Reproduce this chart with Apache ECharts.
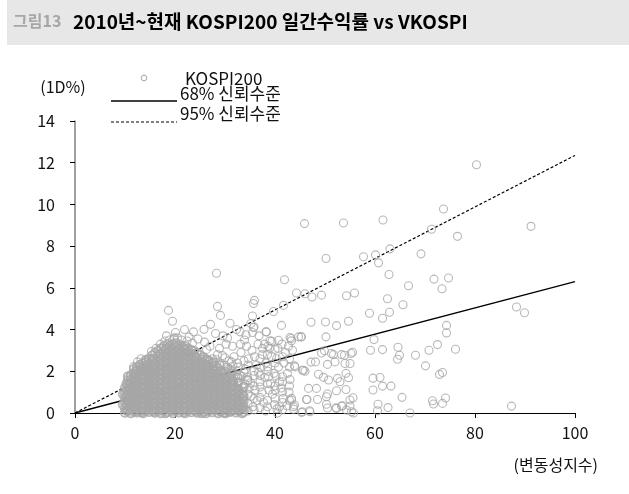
<!DOCTYPE html>
<html>
<head>
<meta charset="utf-8">
<script src="https://cdn.jsdelivr.net/npm/echarts@6/dist/echarts.min.js"></script>
<style>
  html, body { margin: 0; padding: 0; background: #fff; }
  #chart { width: 629px; height: 494px; }
</style>
</head>
<body>
<div id="chart"></div>
<script>
// 축 눈금
const xTicks = [0, 20, 40, 60, 80, 100]
const yTicks = [0, 2, 4, 6, 8, 10, 12, 14]

// 신뢰구간 선 (변동성지수 → 일간수익률)
const band68 = [[0, 0], [100, 6.3]]
const band95 = [[0, 0], [100, 12.35]]

// 밀집 구간: [VKOSPI, [일간수익률 ...]]
const denseColumns = [
  [9.6, [0.4, 0.9]],
  [10.0, [0.02, 0.25, 0.5, 0.72, 0.95, 1.2]],
  [10.6, [0.1, 0.33, 0.6, 0.81, 1.05, 1.3, 1.55, 1.75]],
  [11.2, [0.0, 0.2, 0.45, 0.7, 0.9, 1.12, 1.38, 1.6, 1.82]],
  [11.8, [0.08, 0.3, 0.55, 0.78, 1.0, 1.25, 1.47, 1.7, 1.9, 2.1]],
  [12.4, [0.03, 0.22, 0.48, 0.7, 0.93, 1.15, 1.4, 1.62, 1.85, 2.05, 2.2]],
  [13.0, [0.12, 0.35, 0.6, 0.82, 1.05, 1.3, 1.52, 1.75, 1.98, 2.2, 2.32]],
  [13.6, [0.0, 0.25, 0.47, 0.7, 0.95, 1.18, 1.4, 1.63, 1.88, 2.1, 2.38]],
  [14.2, [0.1, 0.32, 0.56, 0.8, 1.02, 1.27, 1.5, 1.72, 1.95, 2.18, 2.42, 2.55]],
  [14.8, [0.05, 0.28, 0.5, 0.74, 0.97, 1.2, 1.45, 1.68, 1.9, 2.13, 2.36, 2.6]],
  [15.4, [0.15, 0.38, 0.6, 0.85, 1.08, 1.32, 1.55, 1.78, 2.02, 2.25, 2.5, 2.75]],
  [16.0, [0.02, 0.24, 0.48, 0.7, 0.94, 1.17, 1.4, 1.64, 1.87, 2.1, 2.34, 2.58, 2.88]],
  [16.6, [0.1, 0.33, 0.57, 0.8, 1.03, 1.27, 1.5, 1.73, 1.97, 2.2, 2.44, 2.7, 2.98]],
  [17.2, [0.0, 0.22, 0.45, 0.68, 0.92, 1.15, 1.38, 1.62, 1.85, 2.08, 2.32, 2.56, 2.8, 3.08]],
  [17.8, [0.12, 0.36, 0.6, 0.83, 1.06, 1.3, 1.53, 1.77, 2.0, 2.24, 2.47, 2.72, 2.95, 3.2]],
  [18.4, [0.05, 0.28, 0.52, 0.75, 0.98, 1.22, 1.45, 1.68, 1.92, 2.15, 2.38, 2.62, 2.87, 3.1, 3.27]],
  [19.0, [0.15, 0.4, 0.63, 0.86, 1.1, 1.33, 1.56, 1.8, 2.03, 2.27, 2.5, 2.74, 2.98, 3.22]],
  [19.6, [0.0, 0.24, 0.47, 0.7, 0.94, 1.17, 1.4, 1.64, 1.88, 2.1, 2.35, 2.58, 2.82, 3.06, 3.3]],
  [20.2, [0.1, 0.34, 0.58, 0.8, 1.04, 1.27, 1.5, 1.74, 1.97, 2.2, 2.44, 2.68, 2.92, 3.15, 3.35]],
  [20.8, [0.03, 0.26, 0.5, 0.73, 0.96, 1.2, 1.43, 1.66, 1.9, 2.13, 2.37, 2.6, 2.84, 3.08, 3.28]],
  [21.4, [0.14, 0.37, 0.6, 0.84, 1.07, 1.3, 1.54, 1.77, 2.0, 2.24, 2.48, 2.72, 2.95, 3.2]],
  [22.0, [0.0, 0.22, 0.46, 0.7, 0.93, 1.16, 1.4, 1.63, 1.86, 2.1, 2.33, 2.57, 2.8, 3.04, 3.22]],
  [22.6, [0.1, 0.33, 0.56, 0.8, 1.03, 1.26, 1.5, 1.73, 1.96, 2.2, 2.43, 2.67, 2.9, 3.1]],
  [23.2, [0.04, 0.27, 0.5, 0.73, 0.97, 1.2, 1.44, 1.67, 1.9, 2.14, 2.37, 2.6, 2.84, 3.02]],
  [23.8, [0.15, 0.38, 0.62, 0.85, 1.08, 1.32, 1.55, 1.78, 2.02, 2.25, 2.5, 2.75, 2.98]],
  [24.4, [0.02, 0.25, 0.48, 0.72, 0.95, 1.18, 1.42, 1.65, 1.88, 2.12, 2.35, 2.6, 2.88]],
  [25.0, [0.12, 0.35, 0.58, 0.82, 1.05, 1.28, 1.52, 1.75, 1.98, 2.22, 2.46, 2.78]],
  [25.6, [0.06, 0.28, 0.52, 0.75, 0.98, 1.22, 1.45, 1.68, 1.92, 2.16, 2.4, 2.68]],
  [26.2, [0.0, 0.2, 0.44, 0.67, 0.9, 1.14, 1.37, 1.6, 1.84, 2.07, 2.32, 2.58]],
  [26.8, [0.1, 0.33, 0.57, 0.8, 1.03, 1.27, 1.5, 1.73, 1.97, 2.2, 2.48]],
  [27.4, [0.04, 0.26, 0.5, 0.73, 0.96, 1.2, 1.43, 1.66, 1.9, 2.14, 2.38]],
  [28.0, [0.14, 0.37, 0.6, 0.84, 1.07, 1.3, 1.54, 1.77, 2.0, 2.26]],
  [28.6, [0.0, 0.23, 0.46, 0.7, 0.93, 1.16, 1.4, 1.63, 1.87, 2.15]],
  [29.2, [0.08, 0.32, 0.55, 0.78, 1.02, 1.25, 1.48, 1.72, 1.95]],
  [29.8, [0.02, 0.25, 0.48, 0.72, 0.95, 1.18, 1.42, 1.65, 1.9]],
  [30.4, [0.12, 0.36, 0.6, 0.83, 1.06, 1.3, 1.53, 1.76]],
  [31.0, [0.05, 0.28, 0.52, 0.75, 0.98, 1.22, 1.45, 1.68]],
  [31.6, [0.15, 0.38, 0.62, 0.85, 1.08, 1.32, 1.5]],
  [32.2, [0.03, 0.26, 0.5, 0.73, 0.96, 1.2]],
  [32.8, [0.1, 0.34, 0.58, 0.82, 1.05]],
  [33.4, [0.0, 0.24, 0.47, 0.7, 0.9]]
]

// 밀집 구간 사이 보충 열
const fillColumns = [
  [10.3, [0.12, 0.38, 0.62, 0.85, 1.1, 1.4]],
  [10.9, [0.15, 0.42, 0.66, 0.88, 1.18, 1.45]],
  [12.1, [0.12, 0.38, 0.62, 0.86, 1.08, 1.32, 1.55, 1.78, 1.98]],
  [13.3, [0.05, 0.24, 0.48, 0.72, 0.94, 1.18, 1.42, 1.64, 1.87, 2.1]],
  [14.5, [0.2, 0.44, 0.68, 0.9, 1.14, 1.38, 1.6, 1.84, 2.06, 2.3]],
  [15.7, [0.08, 0.27, 0.5, 0.73, 0.97, 1.2, 1.44, 1.66, 1.9, 2.14, 2.38, 2.62]],
  [16.9, [0.2, 0.44, 0.68, 0.92, 1.15, 1.38, 1.62, 1.86, 2.08, 2.32, 2.56, 2.82]],
  [18.1, [0.0, 0.24, 0.47, 0.7, 0.92, 1.16, 1.4, 1.62, 1.86, 2.1, 2.34, 2.56, 2.8, 3.02]],
  [19.3, [0.1, 0.3, 0.52, 0.76, 0.98, 1.22, 1.46, 1.68, 1.92, 2.16, 2.4, 2.62, 2.86, 3.1]],
  [20.5, [0.22, 0.45, 0.68, 0.92, 1.15, 1.38, 1.62, 1.86, 2.08, 2.32, 2.56, 2.8, 3.02]],
  [21.7, [0.05, 0.26, 0.5, 0.73, 0.96, 1.2, 1.43, 1.66, 1.9, 2.14, 2.38, 2.6, 2.84, 3.08]],
  [22.9, [0.2, 0.44, 0.68, 0.9, 1.14, 1.38, 1.62, 1.84, 2.08, 2.3, 2.54, 2.78]],
  [24.1, [0.1, 0.32, 0.56, 0.8, 1.02, 1.26, 1.5, 1.74, 1.96, 2.2, 2.44, 2.7]],
  [25.3, [0.0, 0.22, 0.46, 0.7, 0.92, 1.16, 1.4, 1.62, 1.86, 2.1, 2.34, 2.58]],
  [26.5, [0.12, 0.36, 0.6, 0.82, 1.06, 1.3, 1.52, 1.76, 2.0, 2.26, 2.55]],
  [27.7, [0.2, 0.44, 0.66, 0.9, 1.14, 1.36, 1.6, 1.84, 2.1, 2.42]],
  [28.9, [0.1, 0.34, 0.58, 0.82, 1.06, 1.3, 1.52, 1.78, 2.0, 2.3]],
  [30.1, [0.0, 0.22, 0.46, 0.7, 0.94, 1.18, 1.42, 1.66, 1.98]],
  [31.3, [0.1, 0.36, 0.6, 0.86, 1.12, 1.36, 1.6, 1.9]],
  [32.5, [0.15, 0.4, 0.65, 0.9, 1.15, 1.45, 1.7]],
  [33.7, [0.05, 0.3, 0.55, 0.8, 1.25]]
]

// 밀집 구간 가장자리
const edgePoints = [
  [11.7, 2.21], [14.0, 2.5], [10.7, 1.67], [12.5, 2.45], [13.2, 2.6], [15.3, 2.95],
  [16.2, 3.1], [17.1, 3.3], [18.0, 3.45], [18.9, 3.5], [19.8, 3.55], [20.5, 3.6],
  [21.3, 3.5], [22.4, 3.45], [23.5, 3.35], [18.3, 3.7], [19.9, 3.6], [22.8, 3.65],
  [24.6, 3.55], [25.9, 3.4], [27.0, 3.2], [26.3, 3.05], [28.9, 3.1], [30.2, 3.3],
  [29.5, 2.75], [30.8, 2.5], [31.6, 2.25], [32.4, 2.0], [33.3, 1.75], [34.0, 1.4],
  [18.7, 4.92], [19.5, 4.4], [20.1, 3.86], [21.9, 4.0], [23.7, 3.89], [25.8, 4.01],
  [27.1, 4.25], [28.1, 3.81], [28.3, 6.7], [28.5, 5.11], [29.1, 4.68],
  [30.5, 3.6], [31.5, 3.2], [32.3, 4.0], [33.1, 3.3], [34.2, 3.75], [35.7, 4.1],
  [31.0, 4.3], [29.6, 3.7],
  [27.5, 2.6], [28.2, 2.55], [29.0, 2.4], [29.8, 2.3], [30.6, 2.1], [31.4, 2.0],
  [32.1, 1.75], [32.8, 1.5], [33.5, 1.2], [28.5, 2.8], [30.0, 2.65], [31.3, 2.45],
  [32.6, 2.2], [33.8, 1.95], [34.5, 1.6]
]

// 중간 구간 (VKOSPI 30~45)
const midPoints = [
  [33.2, 2.9], [33.8, 2.5], [34.1, 2.1], [34.5, 1.7], [34.8, 1.2], [35.2, 0.8],
  [35.6, 0.3], [35.9, 2.7], [36.3, 2.3], [36.7, 1.95], [37.0, 1.5], [37.4, 1.0],
  [37.7, 0.5], [38.1, 0.1], [34.3, 3.2], [35.4, 3.0], [36.6, 3.3], [37.5, 2.8],
  [38.2, 2.4], [38.6, 2.0], [39.1, 1.4], [39.5, 0.9], [39.9, 0.4], [40.3, 2.6],
  [40.7, 2.2], [41.2, 1.2], [41.6, 0.7], [42.1, 2.9], [42.5, 1.9], [42.8, 1.0],
  [33.0, 0.5], [33.6, 1.0], [34.0, 0.15], [34.7, 2.6], [35.1, 1.45], [36.0, 1.1],
  [36.4, 0.6], [37.2, 2.2], [38.0, 1.7], [38.8, 1.1], [39.3, 2.7], [39.8, 1.9],
  [40.4, 0.2], [40.9, 1.5], [41.8, 2.4], [42.4, 0.35], [43.0, 1.6], [31.8, 2.7],
  [32.5, 2.4], [31.2, 2.05], [30.5, 2.2], [32.9, 1.8], [33.9, 3.5], [36.8, 3.7],
  [38.9, 3.1], [40.6, 3.1], [41.4, 3.3], [42.7, 3.2], [37.9, 3.3],
  [35.9, 5.4], [35.7, 5.25], [35.5, 4.65], [35.2, 4.29], [41.3, 4.2], [41.7, 5.16],
  [38.2, 3.89], [39.7, 4.87], [33.0, 3.89], [35.5, 3.86], [35.8, 4.12], [38.3, 3.89],
  [39.0, 3.46], [40.7, 3.49], [43.2, 3.57], [43.5, 3.01], [44.7, 3.65], [39.4, 3.44],
  [43.0, 3.62], [43.3, 3.46], [45.2, 3.65], [37.5, 3.1], [38.6, 3.2], [40.0, 3.05],
  [44.0, 2.21], [38.7, 1.74], [40.2, 1.77], [41.5, 1.74], [43.3, 0.7], [43.7, 0.3],
  [43.9, 2.26], [43.3, 0.62], [43.9, 0.38], [45.3, 0.03], [40.9, 0.3], [40.5, 0.0],
  [34.6, 0.1], [34.6, 0.45], [34.6, 0.9], [34.6, 1.55], [34.6, 2.3],
  [35.8, 0.15], [35.8, 0.7], [35.8, 1.3], [35.8, 1.8], [35.8, 2.0],
  [37.0, 0.25], [37.0, 0.75], [37.0, 1.25], [37.0, 1.8], [37.0, 2.6],
  [38.5, 0.3], [38.5, 0.6], [38.5, 1.4], [38.5, 2.2], [38.5, 2.8],
  [40.0, 0.7], [40.0, 1.1], [40.0, 1.3], [40.0, 2.4],
  [41.5, 0.15], [41.5, 0.5], [41.5, 1.0], [41.5, 1.5], [41.5, 2.7],
  [42.9, 0.6], [42.9, 1.3], [42.9, 2.2], [42.9, 2.6]
]

// 고변동 구간 (VKOSPI 45 이상 및 이상치)
const highVolPoints = [
  [80.3, 11.9], [73.7, 9.78], [91.2, 8.95], [45.9, 9.08], [53.7, 9.11], [61.6, 9.25],
  [71.3, 8.81], [76.5, 8.47], [63.0, 7.87], [50.2, 7.41], [57.7, 7.49], [60.1, 7.58],
  [60.7, 7.2], [69.2, 7.63], [62.8, 6.64], [66.7, 6.1], [71.8, 6.42], [74.7, 6.47],
  [73.4, 5.96], [41.9, 6.39], [44.3, 5.75], [46.0, 5.72], [47.4, 5.56], [49.3, 5.65],
  [54.3, 5.62], [55.9, 5.75], [62.5, 5.48], [65.6, 5.19], [88.3, 5.08], [89.9, 4.81],
  [58.9, 4.78], [62.9, 4.83], [61.5, 4.54], [47.2, 4.35], [50.1, 4.36], [52.3, 4.19],
  [54.7, 4.4], [74.3, 4.2], [74.3, 3.84], [45.3, 3.65], [50.2, 3.65], [59.8, 3.52],
  [72.5, 3.28], [70.8, 3.01], [76.1, 3.06], [64.6, 3.15], [64.9, 2.77], [64.5, 2.58],
  [68.1, 2.77], [70.1, 2.26], [59.1, 3.01], [61.5, 3.04], [49.9, 2.98], [51.7, 2.8],
  [53.9, 2.77], [55.5, 2.91], [55.0, 2.37], [45.5, 2.05], [47.2, 2.44], [48.1, 2.45],
  [45.7, 2.05], [46.0, 2.0], [49.3, 2.88], [50.5, 2.33], [51.3, 2.85], [52.0, 2.45],
  [53.3, 2.8], [54.0, 2.37], [55.2, 2.85], [48.7, 1.86], [49.7, 1.71], [50.7, 1.58],
  [52.5, 1.66], [53.0, 1.5], [54.2, 1.9], [54.7, 1.69], [54.2, 1.13], [52.3, 1.07],
  [50.5, 0.91], [48.3, 1.18], [46.7, 1.18], [59.6, 1.67], [61.0, 1.7], [59.6, 1.1],
  [61.5, 1.29], [63.2, 1.29], [72.9, 1.85], [73.5, 1.94], [65.4, 0.75], [71.5, 0.59],
  [71.7, 0.43], [73.5, 0.46], [74.1, 0.72], [87.3, 0.33], [67.0, 0.0], [60.6, 0.42],
  [60.5, 0.11], [62.6, 0.26], [46.4, 0.65], [46.9, 0.11], [46.3, 0.65], [48.5, 0.65],
  [50.3, 0.78], [52.3, 0.22], [53.3, 0.33], [55.0, 0.62], [55.0, 0.33], [43.7, 0.18],
  [45.5, 0.06], [47.0, 0.06], [50.5, 0.24], [55.3, 0.06], [55.7, 0.0], [54.3, 0.14],
  [53.5, 0.35], [52.2, 0.25], [50.3, 0.42], [55.6, 0.73]
]

// 겹쳐서 면처럼 보이는 중심부
const coreData = []
denseColumns.concat(fillColumns).forEach(([vk, ys]) => ys.forEach(y => coreData.push([vk, y])))
const spreadData = edgePoints.concat(midPoints, highVolPoints)

const chart = echarts.init(document.getElementById('chart'), null, { renderer: 'canvas' })
const baseFont = "'Noto Sans CJK KR', 'Noto Sans', sans-serif"

const option = {
  animation: false,
  backgroundColor: '#fff',
  textStyle: { fontFamily: baseFont },
  grid: { left: 75, right: 54, top: 121, bottom: 81 },
  xAxis: {
    type: 'value',
    min: xTicks[0],
    max: xTicks[xTicks.length - 1],
    interval: 20,
    axisLine: { lineStyle: { color: '#000', width: 1 } },
    axisTick: { show: true, length: 5, inside: false, lineStyle: { color: '#000' } },
    axisLabel: { margin: 12, fontSize: 16, color: '#111', fontFamily: baseFont },
    splitLine: { show: false }
  },
  yAxis: {
    type: 'value',
    min: yTicks[0],
    max: yTicks[yTicks.length - 1],
    interval: 2,
    axisLine: { show: true, lineStyle: { color: '#808080', width: 1.5 } },
    axisTick: { show: true, length: 5, lineStyle: { color: '#000' } },
    axisLabel: { margin: 20, fontSize: 16, color: '#111', fontFamily: baseFont },
    splitLine: { show: false }
  },
  graphic: [
    { type: 'rect', shape: { x: 7, y: 0, width: 622, height: 45 }, style: { fill: '#e7e7e7' }, silent: true },
    { type: 'text', left: 13, top: 13, style: { text: '그림13', fontSize: 16, fontWeight: 'bold', fill: '#a6a6a6', fontFamily: baseFont } },
    { type: 'text', left: 73, top: 12, style: { text: '2010년~현재 KOSPI200 일간수익률 vs VKOSPI', fontSize: 19, fontWeight: 'bold', fill: '#000', fontFamily: baseFont } },
    { type: 'text', x: 63, y: 87, style: { text: '(1D%)', fontSize: 16, fill: '#111', align: 'center', verticalAlign: 'middle', fontFamily: baseFont } },
    { type: 'text', x: 598, y: 465, style: { text: '(변동성지수)', fontSize: 16, fill: '#111', align: 'right', verticalAlign: 'middle', fontFamily: baseFont } },
    // 범례
    { type: 'circle', shape: { cx: 144, cy: 78, r: 2.8 }, style: { fill: 'none', stroke: '#a6a6a6', lineWidth: 1 } },
    { type: 'text', x: 185, y: 79, style: { text: 'KOSPI200', fontSize: 17, fill: '#111', verticalAlign: 'middle', fontFamily: baseFont } },
    { type: 'line', shape: { x1: 111, y1: 101, x2: 177, y2: 101 }, style: { stroke: '#000', lineWidth: 1.3 } },
    { type: 'text', x: 180, y: 94, style: { text: '68% 신뢰수준', fontSize: 17, fill: '#111', verticalAlign: 'middle', fontFamily: baseFont } },
    { type: 'line', shape: { x1: 111, y1: 122, x2: 177, y2: 122 }, style: { stroke: '#000', lineWidth: 1.2, lineDash: [3, 2] } },
    { type: 'text', x: 180, y: 114, style: { text: '95% 신뢰수준', fontSize: 17, fill: '#111', verticalAlign: 'middle', fontFamily: baseFont } }
  ],
  series: [
    {
      name: '68% 신뢰수준',
      type: 'line',
      data: band68,
      symbol: 'none',
      z: 1,
      lineStyle: { color: '#000', width: 1.3 }
    },
    {
      name: '95% 신뢰수준',
      type: 'line',
      data: band95,
      symbol: 'none',
      z: 1,
      lineStyle: { color: '#000', width: 1.2, type: [3, 2] }
    },
    {
      name: 'KOSPI200',
      type: 'scatter',
      data: coreData,
      symbol: 'circle',
      symbolSize: 8.5,
      z: 3,
      itemStyle: { color: 'rgba(0,0,0,0)', borderColor: '#a6a6a6', borderWidth: 1.8 }
    },
    {
      name: 'KOSPI200',
      type: 'scatter',
      data: spreadData,
      symbol: 'circle',
      symbolSize: 8,
      z: 3,
      itemStyle: { color: 'rgba(0,0,0,0)', borderColor: '#a6a6a6', borderWidth: 1.1 }
    }
  ]
}
chart.setOption(option)
</script>
</body>
</html>
